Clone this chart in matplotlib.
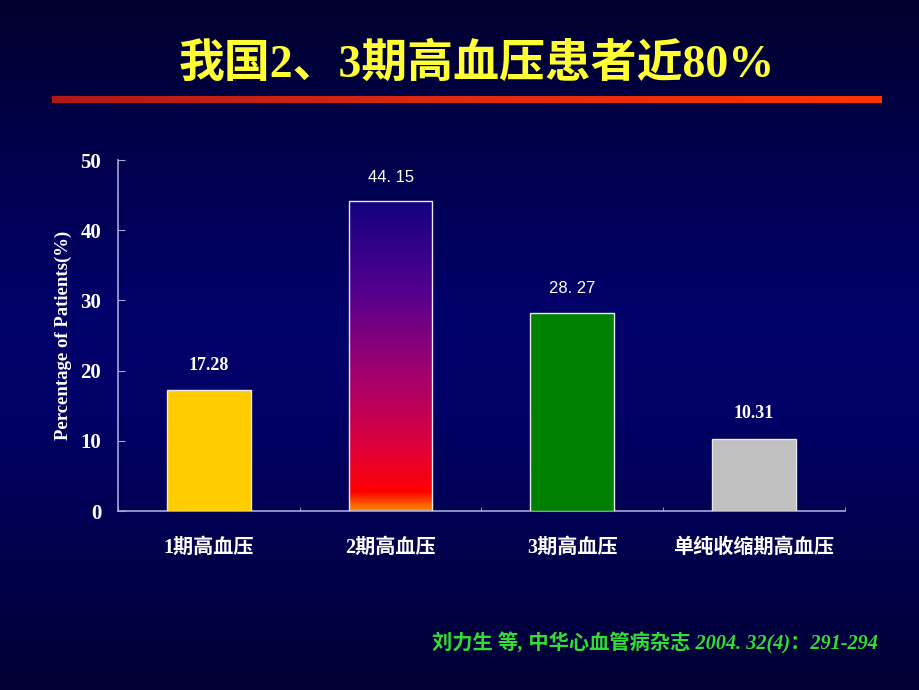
import matplotlib
matplotlib.use("Agg")
import matplotlib.pyplot as plt
import numpy as np
from matplotlib.colors import LinearSegmentedColormap

plt.rcParams['font.family'] = ['Liberation Serif', 'Noto Sans CJK SC', 'DejaVu Sans']

# Data
categories = ["1期高血压", "2期高血压", "3期高血压", "单纯收缩期高血压"]
values = [17.28, 44.15, 28.27, 10.31]
value_labels = ["17.28", "44. 15", "28. 27", "10.31"]
label_fonts = ["serif", "sans", "sans", "serif"]
bar_colors = ["#ffcc00", None, "#008000", "#c0c0c0"]
yticks = [0, 10, 20, 30, 40, 50]

title = "我国2、3期高血压患者近80%"
ylabel = "Percentage of Patients(%)"
citation = "刘力生 等, 中华心血管病杂志 2004. 32(4)：291-294"

fig = plt.figure(figsize=(9.2, 6.9), dpi=100)

# Background gradient
bg_ax = fig.add_axes([0, 0, 1, 1])
bg_ax.axis('off')
bg_cmap = LinearSegmentedColormap.from_list(
    "bg", [(0.0, "#00002e"), (0.45, "#00006a"), (0.6, "#000066"), (1.0, "#000034")])
grad = np.linspace(0, 1, 256).reshape(-1, 1)
bg_ax.imshow(grad, aspect='auto', cmap=bg_cmap, extent=[0, 1, 0, 1], origin='upper')
bg_ax.set_xlim(0, 1)
bg_ax.set_ylim(0, 1)

# Title
fig.text(0.518, 0.906, title, ha='center', va='center', color='#ffff33',
         fontsize=33, fontweight='bold')

# Red rule under title
line_cmap = LinearSegmentedColormap.from_list("rule", ["#b01818", "#e02a10", "#ff3300"])
bg_ax.imshow(np.linspace(0, 1, 256).reshape(1, -1), aspect='auto', cmap=line_cmap,
             extent=[52 / 920, 882 / 920, 1 - 103 / 690, 1 - 96 / 690])

# Chart axes
ax = fig.add_axes([0.1283, 0.2594, 0.790, 0.5087])
ax.set_facecolor('none')
x = np.arange(len(categories))
bars = ax.bar(x, values, width=0.46, color=[c if c else 'none' for c in bar_colors],
              edgecolor='#e8e8f0', linewidth=1.0, zorder=3)

# Gradient fill for the middle bar
grad_cmap = LinearSegmentedColormap.from_list(
    "bar", [(0.0, "#ff8a00"), (0.06, "#ff0000"), (0.2, "#e0003a"),
            (0.45, "#a00070"), (0.7, "#56008e"), (1.0, "#120080")])
for b, c in zip(bars, bar_colors):
    if c is None:
        x0, y0 = b.get_x(), b.get_y()
        im = ax.imshow(np.linspace(0, 1, 256).reshape(-1, 1), aspect='auto', cmap=grad_cmap,
                       extent=[x0, x0 + b.get_width(), y0, y0 + b.get_height()],
                       origin='lower', zorder=2)
        im.set_clip_path(b)

for b, lab, f in zip(bars, value_labels, label_fonts):
    if f == "serif":
        kw = dict(fontfamily=['Liberation Serif'], fontweight='bold', fontsize=13)
    else:
        kw = dict(fontfamily=['Liberation Sans'], fontsize=12)
    ax.text(b.get_x() + b.get_width() / 2, b.get_height() + 2.3, lab,
            ha='center', va='bottom', color='white', **kw)

ax.set_xlim(-0.5, len(categories) - 0.5)
ax.set_ylim(0, 50)
ax.set_yticks(yticks)
ax.set_yticklabels([str(t) for t in yticks], fontsize=15, fontweight='bold', color='white')
ax.set_xticks(x)
ax.set_xticklabels(categories, fontsize=14.5, color='white', fontweight='bold',
                   fontfamily=['Liberation Serif', 'Noto Sans CJK SC'])
ax.tick_params(axis='x', length=0, pad=19)
ax.set_xticks(np.arange(len(categories) + 1) - 0.5, minor=True)
ax.tick_params(axis='x', which='minor', direction='in', length=3, color='#a8a8d8')
ax.tick_params(axis='y', direction='in', length=5, color='#a8a8d8', pad=12)
for s in ['top', 'right']:
    ax.spines[s].set_visible(False)
for s in ['left', 'bottom']:
    ax.spines[s].set_color('#a8a8d8')
    ax.spines[s].set_linewidth(1.2)
ax.set_ylabel(ylabel, color='white', fontsize=13.5, fontweight='bold', labelpad=6)

# Citation
fig.text(878 / 920, 1 - 643 / 690, citation, ha='right', va='center', color='#33dd33',
         fontsize=14.6, fontstyle='italic', fontweight='bold')

fig.savefig("out.png", dpi=100)
